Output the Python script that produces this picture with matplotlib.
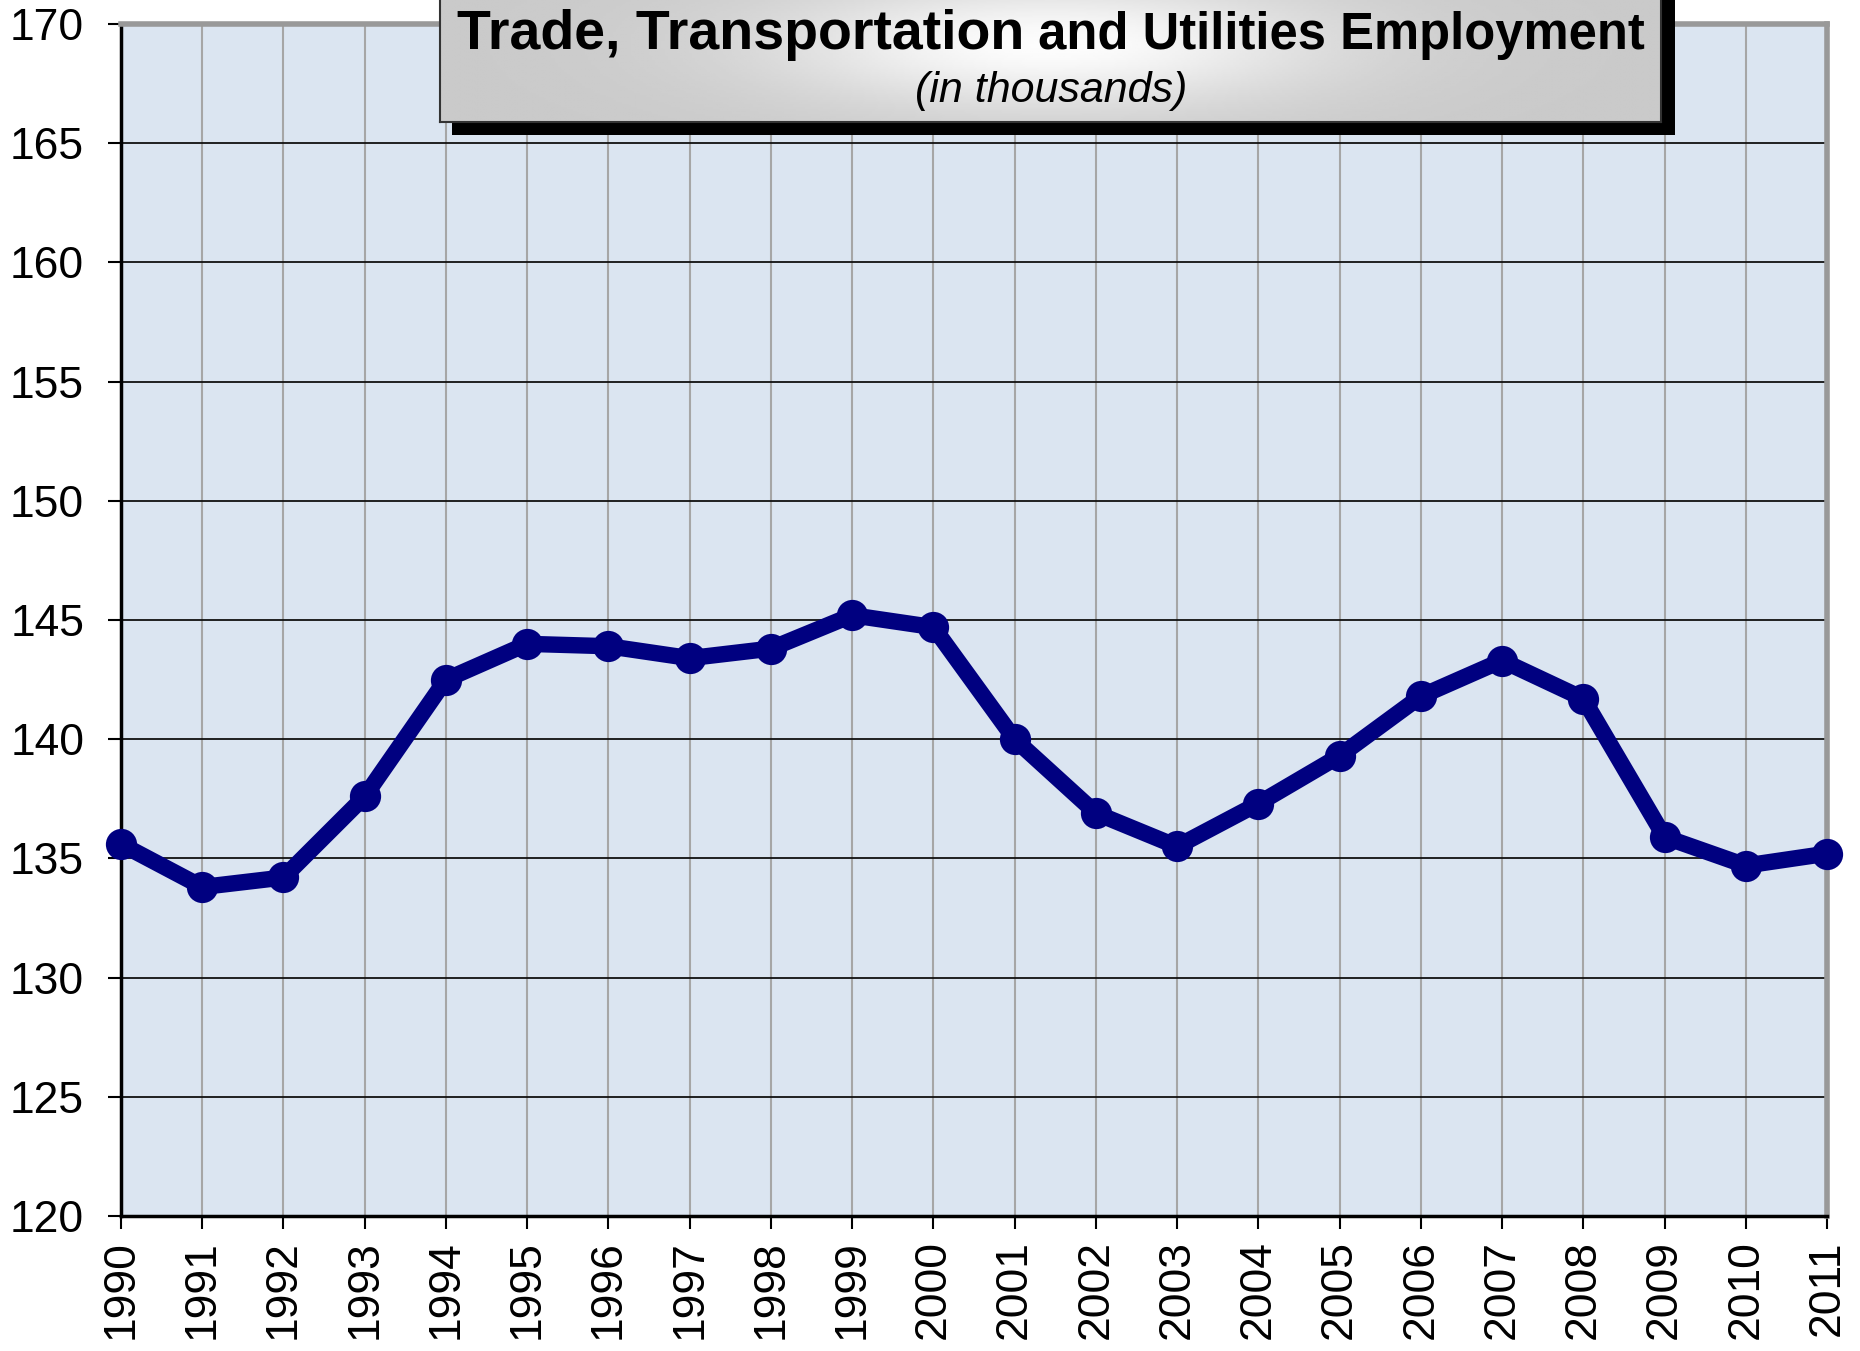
import numpy as np
import matplotlib
matplotlib.use("Agg")
from matplotlib import pyplot as plt
from matplotlib.patches import Rectangle

years = list(range(1990, 2012))
employment = [135.6, 133.8, 134.2, 137.6, 142.5, 144.0, 143.9, 143.4, 143.8, 145.2, 144.7,
              140.0, 136.9, 135.5, 137.3, 139.3, 141.8, 143.3, 141.7, 135.9, 134.7, 135.2]
y_ticks = list(range(120, 171, 5))

title_big = "Trade, Transportation"
title_small = " and Utilities Employment"
subtitle = "(in thousands)"

plt.rcParams['font.family'] = ['Liberation Sans', 'DejaVu Sans']

W, H = 1860, 1351
fig = plt.figure(figsize=(W / 100, H / 100), dpi=100)
ax = fig.add_axes([121 / W, 1 - 1216 / H, (1827 - 121) / W, (1216 - 24) / H])
ax.set_facecolor('#dbe5f1')

ax.plot(years, employment, color='#000080', lw=11.8, marker='o', ms=22.5, mew=0,
        solid_joinstyle='round', solid_capstyle='round', clip_on=False, zorder=5)

ax.set_xlim(1990, 2011)
ax.set_ylim(120, 170)
ax.set_xticks(years)
ax.set_xticklabels([str(y) for y in years], rotation=90)
ax.set_yticks(y_ticks)
ax.tick_params(labelsize=32, length=9.5, width=1.5, direction='out')
ax.tick_params(axis='y', pad=17)
ax.tick_params(axis='x', pad=8)
ax.grid(axis='x', color='#a6a6a6', lw=1.5)
ax.grid(axis='y', color='#111111', lw=1.3)
ax.set_axisbelow(True)
for s in ['top', 'right']:
    ax.spines[s].set_color('#999999')
    ax.spines[s].set_linewidth(4)
for s in ['left', 'bottom']:
    ax.spines[s].set_color('black')
    ax.spines[s].set_linewidth(2.5)

# title box with drop shadow
shadow = Rectangle((452 / W, 1 - 135 / H), (1675 - 452) / W, 0.2, transform=fig.transFigure,
                   facecolor='black', edgecolor='none', zorder=1)
fig.patches.append(shadow)

box = fig.add_axes([440 / W, 1 - 122 / H, (1661 - 440) / W, 140 / H])
box.set_zorder(3)
gx = np.linspace(-1, 1, 400)
gy = np.linspace(-1, 1, 60)
GX, GY = np.meshgrid(gx, gy)
grad = 0.79 + 0.2 * np.exp(-(GX / 0.45) ** 2 - ((GY + 0.1) / 0.9) ** 2)
box.imshow(grad, cmap='gray', vmin=0, vmax=1, aspect='auto', extent=[0, 1, 0, 1])
box.set_xticks([])
box.set_yticks([])
for s in box.spines.values():
    s.set_color('#333333')
    s.set_linewidth(1.5)

t1 = fig.text(0, 1 - 49 / H, title_big, fontsize=40, fontweight='bold', va='baseline', zorder=4)
t2 = fig.text(0, 1 - 49 / H, title_small, fontsize=36.5, fontweight='bold', va='baseline', zorder=4)
fig.canvas.draw()
r = fig.canvas.get_renderer()
w1 = t1.get_window_extent(r).width
w2 = t2.get_window_extent(r).width
x0 = 1051 - (w1 + w2) / 2
t1.set_x(x0 / W)
t2.set_x((x0 + w1) / W)
fig.text(1051 / W, 1 - 102 / H, subtitle, fontsize=31, style='italic', ha='center', va='baseline', zorder=4)

fig.savefig("out.png", dpi=100)
